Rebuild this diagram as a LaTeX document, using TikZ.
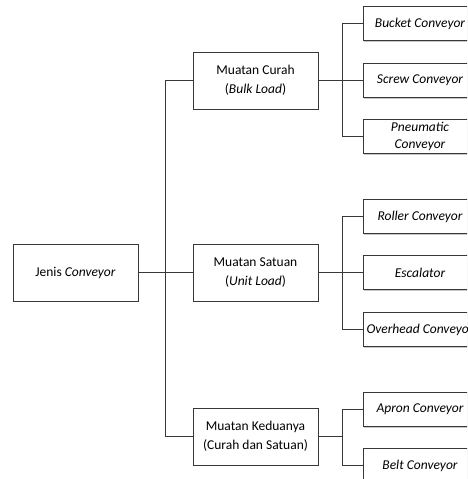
\documentclass[tikz,border=0pt]{standalone}
\usepackage{fontspec}
\setmainfont{Carlito}
\usetikzlibrary{shadows}
\definecolor{ln}{HTML}{383838}
\tikzset{
  box/.style={draw=ln, line width=1pt, fill=white, minimum width=125pt, inner sep=1pt, align=center,
    font=\fontsize{13.5}{19}\selectfont,
    drop shadow={shadow xshift=1.3pt, shadow yshift=-1.3pt, fill=black!22, opacity=1}},
  leaf/.style={box, minimum width=114pt, minimum height=34pt, font=\fontsize{13.5}{17}\selectfont\itshape},
  mid/.style={box, minimum height=57pt},
  conn/.style={draw=ln, line width=1pt}
}
\begin{document}
\begin{tikzpicture}[x=1pt,y=-1pt]
\useasboundingbox (0,0) rectangle (467,479);
\clip (0,0) rectangle (467,479);
\node[mid] (jenis) at (75.5,272.5) {Jenis \textit{Conveyor}};
\node[mid] (curah) at (255.5,80.5) {Muatan Curah\\(\textit{Bulk Load})};
\node[mid] (satuan) at (255.5,272.5) {Muatan Satuan\\(\textit{Unit Load})};
\node[mid] (kedua) at (255.5,436.5) {Muatan Keduanya\\(Curah dan Satuan)};
\node[leaf] (bucket) at (420,23.5) {Bucket Conveyor};
\node[leaf] (screw) at (420,80.5) {Screw Conveyor};
\node[leaf] (pneu) at (420,136.5) {Pneumatic\\Conveyor};
\node[leaf] (roller) at (420,216.5) {Roller Conveyor};
\node[leaf] (esc) at (420,272.5) {Escalator};
\node[leaf] (over) at (420,329.5) {Overhead Conveyor};
\node[leaf] (apron) at (420,409.5) {Apron Conveyor};
\node[leaf] (belt) at (420,465.5) {Belt Conveyor};
\coordinate (t) at (165.5,272.5);
\coordinate (b1) at (342.5,80.5);
\coordinate (b2) at (342.5,272.5);
\coordinate (b3) at (342.5,436.5);
\draw[conn] (jenis.east) -- (satuan.west);
\draw[conn] (curah.west) -| (t) |- (kedua.west);
\draw[conn] (curah.east) -- (screw.west);
\draw[conn] (bucket.west) -| (b1) |- (pneu.west);
\draw[conn] (satuan.east) -- (esc.west);
\draw[conn] (roller.west) -| (b2) |- (over.west);
\draw[conn] (kedua.east) -- (b3);
\draw[conn] (apron.west) -| (b3) |- (belt.west);
\end{tikzpicture}
\end{document}
